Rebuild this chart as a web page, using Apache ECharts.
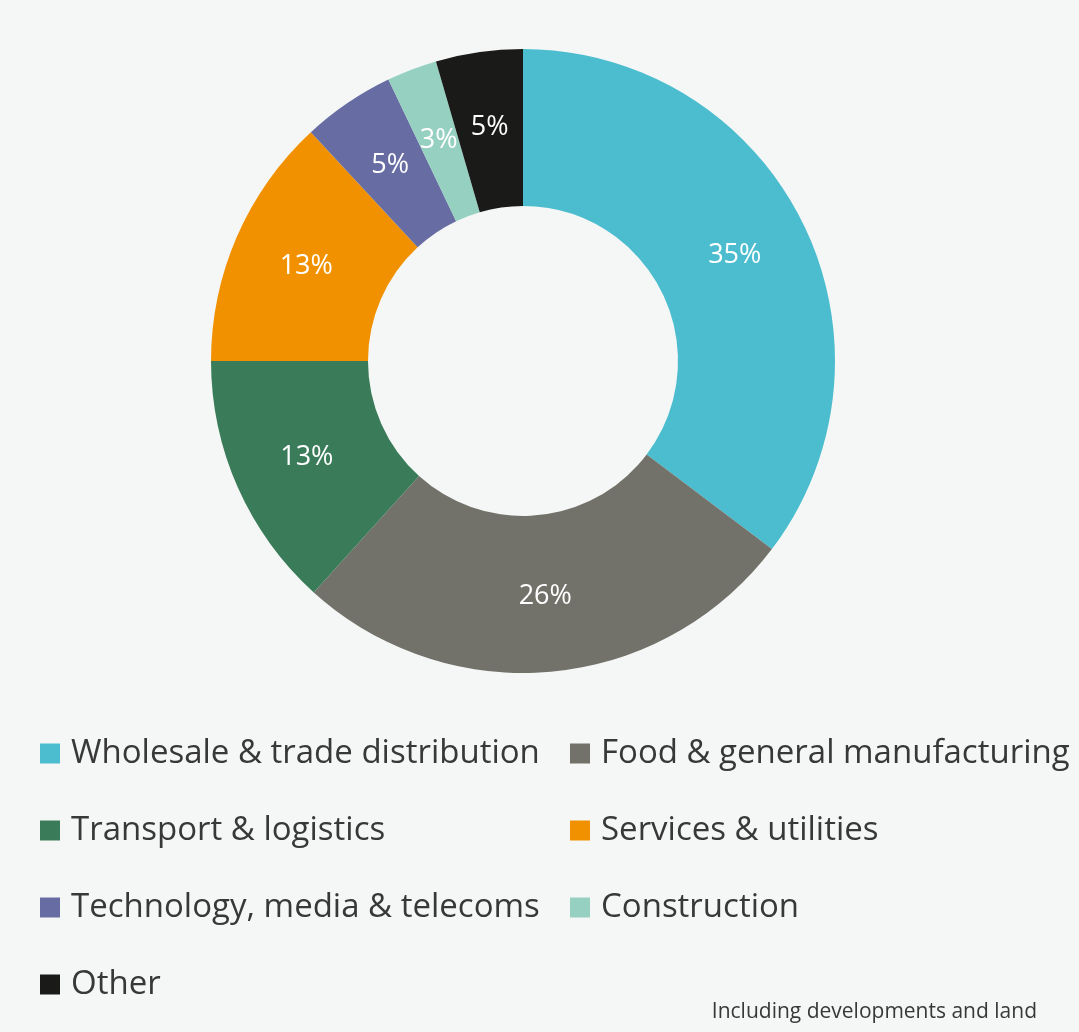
<!DOCTYPE html>
<html>
<head>
<meta charset="utf-8">
<script src="https://cdn.jsdelivr.net/npm/echarts@6/dist/echarts.min.js"></script>
<style>
html,body{margin:0;padding:0;background:#f5f7f6;}
#c{width:1079px;height:1032px;}
</style>
</head>
<body>
<div id="c"></div>
<script>
const categories = ["Wholesale & trade distribution","Food & general manufacturing","Transport & logistics","Services & utilities","Technology, media & telecoms","Construction","Other"];
const values = [35.3, 26.4, 13.3, 13.1, 4.8, 2.6, 4.5];
const colors = ["#4bbdcf","#73726a","#3a7c59","#f29100","#676ca3","#96d0c0","#1a1a18"];
const leftLegend = ["Wholesale & trade distribution","Transport & logistics","Technology, media & telecoms","Other"];
const rightLegend = ["Food & general manufacturing","Services & utilities","Construction"];
const note = "Including developments and land";

const chart = echarts.init(document.getElementById('c'));
const font = '"Open Sans", sans-serif';
const legendCommon = {
  orient: 'vertical', top: 737, padding: 0, itemWidth: 20, itemHeight: 20, itemGap: 44,
  icon: 'rect', selectedMode: false,
  textStyle: {fontSize: 33, lineHeight: 33, color: '#383838', fontFamily: font, padding: [0,0,0,6]}
};
chart.setOption({
  backgroundColor: '#f5f7f6',
  color: colors,
  title: {text: note, right: 42, top: 1002, padding: 0, textStyle: {fontSize: 21, fontWeight: 'normal', color: '#383838', fontFamily: font}},
  legend: [
    Object.assign({}, legendCommon, {left: 40, data: leftLegend}),
    Object.assign({}, legendCommon, {left: 570, data: rightLegend})
  ],
  series: [{
    type: 'pie',
    center: [523, 361],
    radius: [155, 312],
    startAngle: 90,
    clockwise: true,
    percentPrecision: 0,
    avoidLabelOverlap: false,
    label: {position: 'inside', formatter: '{d}%', color: '#ffffff', fontSize: 27, fontFamily: font},
    labelLine: {show: false},
    emphasis: {disabled: true},
    itemStyle: {borderWidth: 0},
    data: categories.map((n, i) => ({name: n, value: values[i]}))
  }]
});
</script>
</body>
</html>
